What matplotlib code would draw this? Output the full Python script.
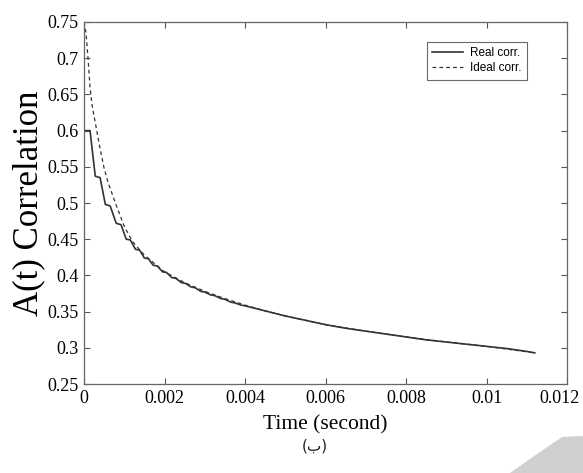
import matplotlib
matplotlib.use("Agg")
import matplotlib.pyplot as plt
import matplotlib.transforms as mtransforms
from matplotlib.patches import Polygon

# ---- data ----
ideal_t = [0, 0.00005, 0.0001, 0.00015, 0.0002, 0.0003, 0.0004, 0.0005, 0.0006,
           0.0008, 0.001, 0.0012, 0.0015, 0.002, 0.0025, 0.003, 0.0035, 0.004,
           0.0045, 0.005, 0.006, 0.007, 0.008, 0.009, 0.010, 0.0112]
ideal_v = [0.75, 0.735, 0.70, 0.66, 0.635, 0.605, 0.575, 0.548, 0.528,
           0.497, 0.468, 0.447, 0.428, 0.405, 0.390, 0.378, 0.368, 0.359,
           0.351, 0.344, 0.332, 0.323, 0.315, 0.308, 0.302, 0.293]

real_t = [0, 0.00015, 0.00028, 0.00040, 0.00053, 0.00065, 0.00080, 0.00092,
          0.00105, 0.00115, 0.00128, 0.00138, 0.00150, 0.00160, 0.00172, 0.00182,
          0.00195, 0.00205, 0.00218, 0.00228, 0.00242, 0.00252, 0.00266, 0.00276,
          0.00290, 0.00300, 0.00315, 0.00325, 0.00340, 0.00350, 0.00365, 0.00375,
          0.00390, 0.00400, 0.0045, 0.005, 0.0055, 0.006, 0.0065, 0.007, 0.0075,
          0.008, 0.0085, 0.009, 0.0095, 0.010, 0.0105, 0.011, 0.0112]
real_v = [0.600, 0.600, 0.537, 0.535, 0.498, 0.496, 0.472, 0.470,
          0.450, 0.449, 0.436, 0.435, 0.424, 0.423, 0.414, 0.413,
          0.405, 0.404, 0.397, 0.396, 0.390, 0.389, 0.384, 0.383,
          0.378, 0.377, 0.373, 0.372, 0.368, 0.367, 0.363, 0.362,
          0.359, 0.358, 0.351, 0.344, 0.338, 0.332, 0.327, 0.323, 0.319,
          0.315, 0.311, 0.308, 0.305, 0.302, 0.299, 0.295, 0.293]

x_ticks = [0, 0.002, 0.004, 0.006, 0.008, 0.010, 0.012]
x_labels = ["0", "0.002", "0.004", "0.006", "0.008", "0.01", "0.012"]
y_ticks = [0.25, 0.30, 0.35, 0.40, 0.45, 0.50, 0.55, 0.60, 0.65, 0.70, 0.75]
y_labels = ["0.25", "0.3", "0.35", "0.4", "0.45", "0.5", "0.55", "0.6", "0.65", "0.7", "0.75"]

W, H = 583, 473
fig = plt.figure(figsize=(W / 100, H / 100), dpi=100)

# faint watermark shape in the lower-right corner
wm = Polygon([(510 / W, 0), (540 / W, 1 - 452 / H), (562 / W, 1 - 437 / H),
              (583 / W, 1 - 436 / H), (583 / W, 0)], closed=True,
             transform=fig.transFigure, facecolor="#cfcfcf", edgecolor="none")
fig.patches.append(wm)

ax = fig.add_axes([84 / W, 1 - 384 / H, (567 - 84) / W, (384 - 22) / H])

line_col = "#333333"
ax.plot(real_t, real_v, color=line_col, lw=1.2, ls="-", label="Real corr.")
ax.plot(ideal_t, ideal_v, color=line_col, lw=0.9, ls=(0, (3, 2.5)), label="Ideal corr.")

ax.set_xlim(0, 0.012)
ax.set_ylim(0.25, 0.75)
ax.set_xticks(x_ticks)
ax.set_xticklabels(x_labels, family="Liberation Serif", fontsize=13)
ax.set_yticks(y_ticks)
ax.set_yticklabels(y_labels, family="Liberation Serif", fontsize=13)
ax.tick_params(direction="in", top=True, right=True, length=4, width=0.8,
               color="#555555", pad=4)
for s in ax.spines.values():
    s.set_color("#666666")
    s.set_linewidth(0.9)

# shift the last x tick label left so it stays inside the figure
last = ax.get_xticklabels()[-1]
last.set_transform(last.get_transform() +
                   mtransforms.ScaledTranslation(-8 / 100, 0, fig.dpi_scale_trans))

ax.set_xlabel("Time (second)", family="Liberation Serif", fontsize=15.5, labelpad=6)
ax.set_ylabel("A(t) Correlation", family="Liberation Serif", fontsize=25, labelpad=1)

leg = ax.legend(loc="upper right", bbox_to_anchor=((527 - 84) / (567 - 84), 1 - (42 - 22) / (384 - 22)),
                prop={"family": "Liberation Sans", "size": 8.5}, frameon=True,
                fancybox=False, handlelength=2.6, borderpad=0.45, labelspacing=0.25,
                handletextpad=0.6, borderaxespad=0)
leg.get_frame().set_edgecolor("#444444")
leg.get_frame().set_linewidth(0.8)

fig.text(315 / W, 1 - 446 / H, "(ب)", family=["DejaVu Sans"], fontsize=11,
         ha="center", va="center", color="#222222")

fig.savefig("out.png", dpi=100)
